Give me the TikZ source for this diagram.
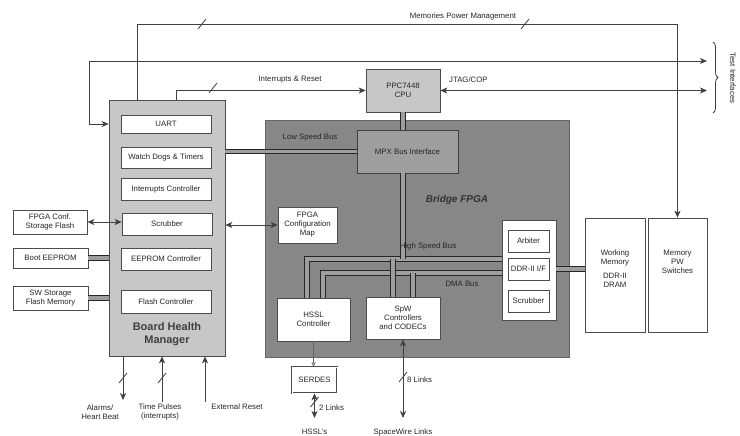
\documentclass[tikz,border=0pt]{standalone}
\usepackage{fontspec}
\setmainfont{Liberation Sans}
\usetikzlibrary{calc,arrows.meta,decorations.pathreplacing}

% small slash across a signal line
\newcommand{\sigmark}[1]{\draw[sig] ($(#1)+(-4,5)$) -- ($(#1)+(4,-5)$);}

\begin{document}
\begin{tikzpicture}[x=1pt,y=-1pt]
    % white blocks
    \tikzstyle{blk}=[draw=black!70, fill=white, line width=.7pt, inner sep=1pt, align=center, font=\fontsize{7.8}{9}\selectfont, text=black!85]
    % plain texts
    \tikzstyle{lbl}=[inner sep=1pt, align=center, font=\fontsize{7.8}{9}\selectfont, text=black!85]
    % buses and signals
    \tikzstyle{bus}=[line width=1.2pt, draw=black!85, double=black!38, double distance=3.2pt]
    \tikzstyle{sig}=[line width=.8pt, draw=black!75]
    \tikzstyle{arr}=[sig, -{Stealth[length=7pt, width=6pt, inset=2pt]}]
    \tikzstyle{darr}=[sig, {Stealth[length=7pt, width=6pt, inset=2pt]}-{Stealth[length=7pt, width=6pt, inset=2pt]}]
    \useasboundingbox (0,0) rectangle (740,436);
    % big blocks
    \node[blk, fill=black!22, minimum width=116, minimum height=256] (BHM) at (167,228) {};
    \node[blk, fill=black!47, draw=black!60, line width=1pt, minimum width=304, minimum height=236] (FPGA) at (417,239) {};
    \node[blk, fill=black!22, minimum width=74, minimum height=43] (CPU) at (403,90.5) {PPC7448\\CPU};
    \node[blk, fill=black!38, draw=black!75, minimum width=101, minimum height=43] (MPX) at (407.5,151.5) {MPX Bus Interface};
    % board health manager
    \node[blk, minimum width=90, minimum height=18] (UART) at (166,124) {UART};
    \node[blk, minimum width=90, minimum height=21] (WDT) at (166,157.5) {Watch Dogs \& Timers};
    \node[blk, minimum width=90, minimum height=22] (IRQC) at (166,189) {Interrupts Controller};
    \node[blk, minimum width=90, minimum height=22] (SCRB) at (167,224) {Scrubber};
    \node[blk, minimum width=90, minimum height=22] (EEPC) at (166,259) {EEPROM Controller};
    \node[blk, minimum width=90, minimum height=23] (FLSC) at (166,301.5) {Flash Controller};
    \node[lbl, font=\bfseries\fontsize{11}{12.5}\selectfont, text=black!75] (BHMt) at (167,334) {Board Health\\Manager};
    % external memories
    \node[blk, minimum width=74, minimum height=24] (FCSF) at (50,222) {FPGA Conf.\\Storage Flash};
    \node[blk, minimum width=75, minimum height=20] (BOOT) at (50.5,258) {Boot EEPROM};
    \node[blk, minimum width=75, minimum height=24] (SWSF) at (50.5,298) {SW Storage\\Flash Memory};
    % bridge fpga
    \node[lbl, font=\bfseries\itshape\fontsize{10}{12}\selectfont, text=black!80] (FPGAt) at (457,200) {Bridge FPGA};
    \node[blk, minimum width=59, minimum height=36] (FCM) at (307.5,225) {FPGA\\Configuration\\Map};
    \node[blk, minimum width=73, minimum height=43] (HSSL) at (313.5,319.5) {HSSL\\Controller};
    \node[blk, minimum width=74, minimum height=42] (SPW) at (403,318) {SpW\\Controllers\\and CODECs};
    \node[blk, minimum width=54, minimum height=100] (MEMC) at (529,270) {};
    \node[blk, minimum width=41, minimum height=22] (ARB) at (528.5,241) {Arbiter};
    \node[blk, minimum width=41, minimum height=22] (DDR) at (528.5,269) {DDR-II I/F};
    \node[blk, minimum width=41, minimum height=22] (SCRB2) at (528.5,301) {Scrubber};
    \node[blk, double, double distance=1pt, minimum width=45, minimum height=26] (SERD) at (314.5,380) {SERDES};
    % memories
    \node[blk, minimum width=60, minimum height=114] (WM) at (615,275) {};
    \node[lbl] (WMt) at ($(WM)+(0,-6)$) {Working\\Memory\\[5pt]DDR-II\\DRAM};
    \node[blk, minimum width=59, minimum height=114] (MPW) at (677.5,275) {};
    \node[lbl] (MPWt) at ($(MPW)+(0,-13)$) {Memory\\PW\\Switches};

    % top signals
    \coordinate (mpm) at (137,24);
    \draw[arr] (mpm |- BHM.north) |- (MPW.north |- mpm) -- (MPW.north);
    \sigmark{202,24}
    \sigmark{525,24}
    \node[lbl] (mpmt) at (463,16) {Memories Power Management};
    \coordinate (tstl) at (89,61);
    \coordinate (tstr) at (707,61);
    \draw[darr] (BHM.west |- UART) -| (tstl) -- (tstr);
    \coordinate (irq) at (176,88);
    \draw[arr] (irq |- BHM.north) |- (CPU.west);
    \sigmark{213,88}
    \node[lbl] (irqt) at (290,80) {Interrupts \& Reset};
    \coordinate (jtag) at (707,90.5);
    \draw[darr] (CPU.east) -- (jtag);
    \node[lbl, anchor=west] (jtagt) at (448,80) {JTAG/COP};
    \draw[sig, decorate, decoration={brace, amplitude=5pt}] (713,42) -- (713,113);
    \node[lbl, rotate=-90] (tstt) at (733,78) {Test Interfaces};

    % buses
    \draw[bus] (CPU.south) -- (CPU.south |- MPX.north);
    \draw[bus] (MPX.west) -- (MPX.west -| BHM.east);
    \node[lbl] (lsbt) at (310,137) {Low Speed Bus};
    \coordinate (hsL) at (307,259);
    \coordinate (hsS) at (393,259);
    \coordinate (hsM) at (403,259);
    \coordinate (dmaL) at (323,273);
    \coordinate (dmaS) at (413,273);
    \draw[bus] (MEMC.west |- hsL) -- (hsL) -- (hsL |- HSSL.north);
    \draw[bus] (hsM |- MPX.south) -- (hsM);
    \draw[bus] (MEMC.west |- dmaL) -- (dmaL) -- (dmaL |- HSSL.north);
    \draw[bus] (dmaS) -- (dmaS |- SPW.north);
    \draw[bus] (hsS) -- (hsS |- SPW.north);
    \node[lbl] (hsbt) at (428,246) {High Speed Bus};
    \node[lbl] (dmat) at (462,284) {DMA Bus};
    \draw[bus] (MEMC.east |- DDR) -- (WM.west |- DDR);
    \draw[bus] (BOOT.east) -- (BOOT.east -| BHM.west);
    \draw[bus] (SWSF.east) -- (SWSF.east -| BHM.west);

    % side signals
    \draw[darr] (FCSF.east) -- (FCSF.east -| SCRB.west);
    \draw[darr] (FCM.west) -- (FCM.west -| BHM.east);
    \draw[line width=.7pt, draw=black!60, -{Triangle[open, length=4pt, width=4pt]}] (HSSL.south) -- (HSSL.south |- SERD.north);

    % links
    \coordinate (hssl) at (314.5,418);
    \draw[darr] (SERD.south) -- (hssl);
    \sigmark{314.5,402}
    \node[lbl, anchor=west] (hsslt) at (318,408) {2 Links};
    \node[lbl] (hsslb) at (314.5,432) {HSSL's};
    \coordinate (spwl) at (403,418);
    \draw[darr] (SPW.south) -- (spwl);
    \sigmark{403,377}
    \node[lbl, anchor=west] (spwt) at (406,380) {8 Links};
    \node[lbl] (spwb) at (403,432) {SpaceWire Links};

    % board health manager signals
    \coordinate (alm) at (123,400);
    \coordinate (tpl) at (162,402);
    \coordinate (rst) at (205,402);
    \draw[arr] (alm |- BHM.south) -- (alm);
    \draw[arr] (tpl) -- (tpl |- BHM.south);
    \draw[arr] (rst) -- (rst |- BHM.south);
    \sigmark{123,378}
    \sigmark{162,378}
    \node[lbl] (almt) at (100,412) {Alarms/\\Heart Beat};
    \node[lbl] (tplt) at (160,412) {Time Pulses\\(interrupts)};
    \node[lbl] (rstt) at (237,407) {External Reset};
\end{tikzpicture}
\end{document}
